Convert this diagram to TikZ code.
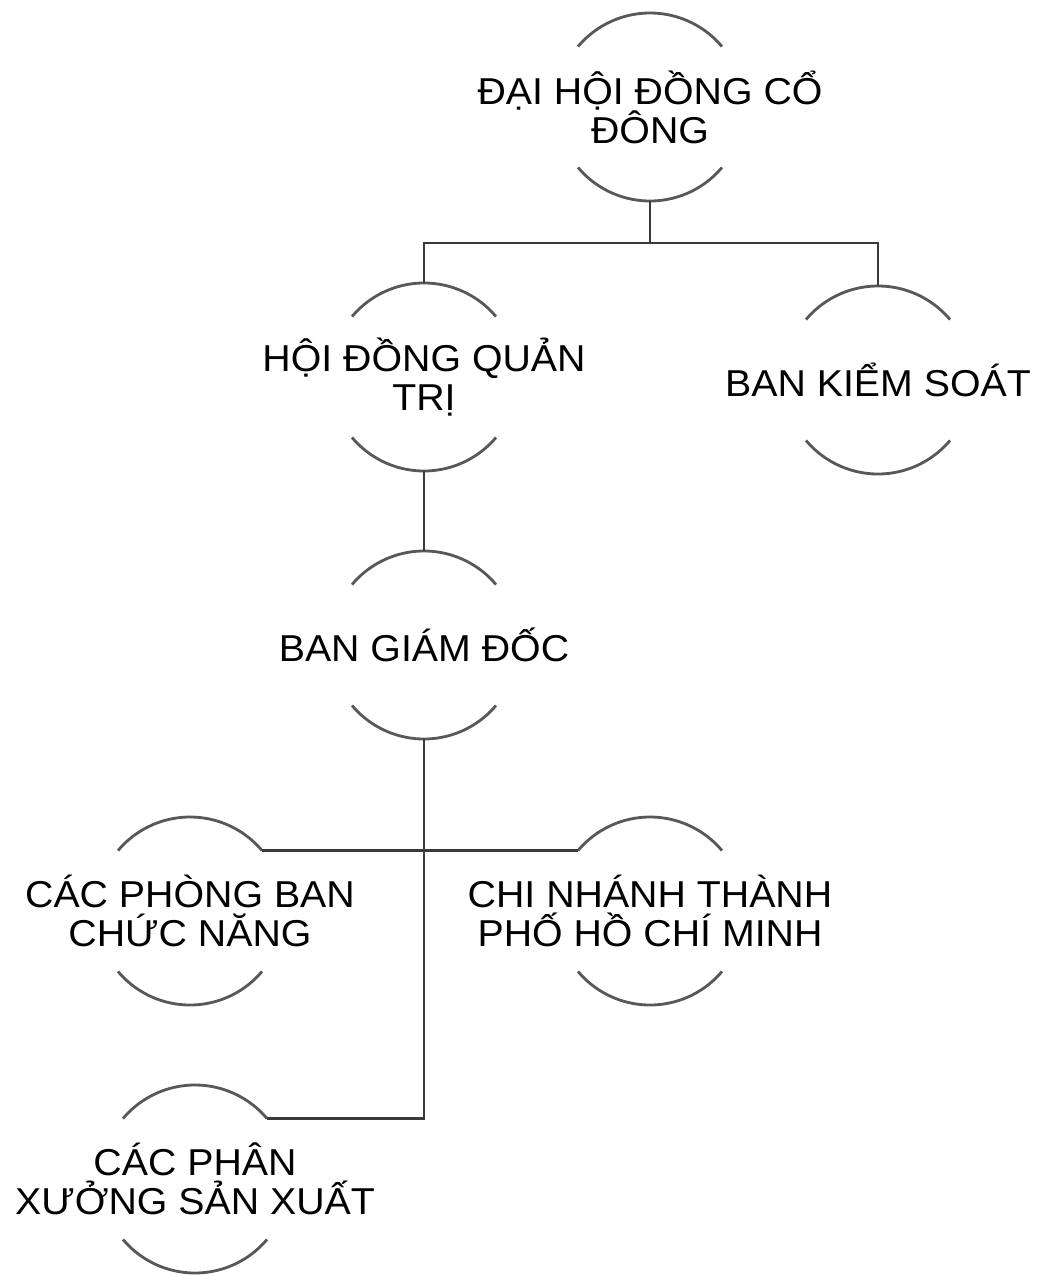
\documentclass[tikz,border=0pt]{standalone}
\usepackage{fontspec}
\setmainfont{Liberation Sans}[FakeStretch=1.05]
\usepackage{tikz}
\usetikzlibrary{positioning,calc}

\begin{document}
\begin{tikzpicture}[x=0.02cm,y=0.02cm]
	\definecolor{orgline}{RGB}{58,58,58}
	\tikzset{
		unit/.style={
			inner sep=0pt, outer sep=0pt,
			align=center, font=\fontsize{21.3pt}{22.2pt}\selectfont
		},
		rim/.style={
			draw=orgline!85, line width=1.6pt
		},
		link/.style={
			draw=orgline, line width=1.6pt
		}
	}
	\useasboundingbox (0,0) rectangle (1037,-1275);
	
	% ======= Cấp trên: đại hội, hội đồng, ban kiểm soát =======
	\node[unit] (dh) at (650,-107) {ĐẠI HỘI ĐỒNG CỔ\\ĐÔNG};
	\node[unit] (hd) at (424,-377) {HỘI ĐỒNG QUẢN\\TRỊ};
	\node[unit] (bk) at (878,-380) {BAN KIỂM SOÁT};
	
	% ======= Ban giám đốc và các đơn vị =======
	\node[unit] (bg) at (424,-645) {BAN GIÁM ĐỐC};
	\node[unit] (pb) at (190,-911) {CÁC PHÒNG BAN\\CHỨC NĂNG};
	\node[unit] (cn) at (650,-911) {CHI NHÁNH THÀNH\\PHỐ HỒ CHÍ MINH};
	\node[unit] (px) at (195,-1179) {CÁC PHÂN\\XƯỞNG SẢN XUẤT};
	
	% ======= Vành cung trên và dưới, điểm nối =======
	\foreach \nd in {dh,hd,bk,bg,pb,cn,px}{
		\coordinate (\nd-n)  at ($(\nd.center)+(0,94)$);
		\coordinate (\nd-s)  at ($(\nd.center)+(0,-94)$);
		\coordinate (\nd-ne) at ($(\nd.center)+(40:94)$);
		\coordinate (\nd-nw) at ($(\nd.center)+(140:94)$);
		\draw[rim] (\nd-ne) arc[start angle=40, end angle=140, radius=94];
		\draw[rim] ($(\nd.center)+(220:94)$) arc[start angle=220, end angle=320, radius=94];
	}
	
	% ======= Đường nối =======
	\coordinate (j1) at ($(dh-s)+(0,-42)$);
	\draw[link] (dh-s) -- (j1);
	\draw[link] (hd-n) |- (j1) -| (bk-n);
	\draw[link] (hd-s) -- (bg-n);
	\draw[link] (bg-s) |- (px-ne);
	\draw[link] (pb-ne) -- (cn-nw);
	
\end{tikzpicture}
\end{document}
